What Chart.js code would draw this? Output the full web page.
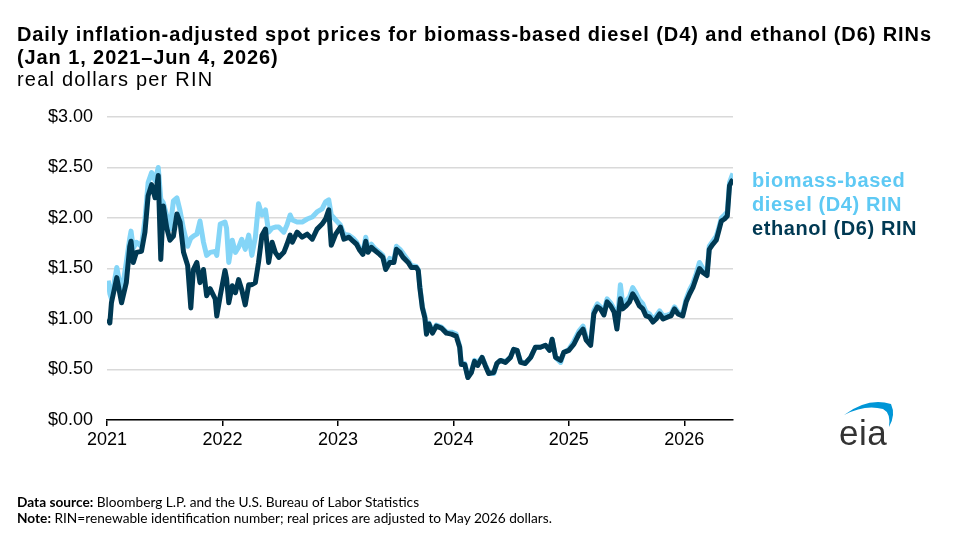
<!DOCTYPE html>
<html>
<head>
<meta charset="utf-8">
<script src="https://cdn.jsdelivr.net/npm/chart.js@4.4.1/dist/chart.umd.min.js"></script>
<style>
  html, body { margin: 0; padding: 0; background: #fff; }
  #wrap { position: relative; width: 976px; height: 542px; overflow: hidden; font-family: "Liberation Sans", Arial, sans-serif; }
  #ch { position: absolute; left: 0; top: 0; }
  .title { position: absolute; left: 17px; top: 23px; font-size: 20px; letter-spacing: 0.9px; font-weight: bold; line-height: 23px; color: #000; white-space: nowrap; }
  .sub { position: absolute; left: 17px; top: 68px; font-size: 20px; letter-spacing: 1.2px; line-height: 23px; color: #000; }
  .leg { position: absolute; left: 752px; top: 168px; font-size: 20px; letter-spacing: 0.6px; font-weight: bold; line-height: 24px; }
  .foot { position: absolute; left: 17px; top: 494px; font-family: Lato, sans-serif; font-size: 13.7px; line-height: 16px; color: #000; }
  #logo { position: absolute; left: 832px; top: 396px; }
</style>
</head>
<body>
<div id="wrap">
  <canvas id="ch" width="976" height="542"></canvas>
  <div class="title">Daily inflation-adjusted spot prices for biomass-based diesel (D4) and ethanol (D6) RINs<br>(Jan 1, 2021–Jun 4, 2026)</div>
  <div class="sub">real dollars per RIN</div>
  <div class="leg">
    <div style="color:#5ec9f4">biomass-based<br>diesel (D4) RIN</div>
    <div style="color:#003953">ethanol (D6) RIN</div>
  </div>
  <div class="foot"><b>Data source:</b> Bloomberg L.P. and the U.S. Bureau of Labor Statistics<br><b>Note:</b> RIN=renewable identification number; real prices are adjusted to May 2026 dollars.</div>
  <svg id="logo" width="70" height="55" viewBox="0 0 70 55">
    <path d="M12 19 Q36 1 59 8 Q64 19 57 31 Q59 17 51 13 Q33 8 12 19 Z" fill="#0096d7"/>
    <text x="7" y="49" font-family="Liberation Sans, Arial, sans-serif" font-size="35" fill="#333" letter-spacing="0.5">eia</text>
  </svg>
</div>
<script>
// dates of the readings (daily series)
let dates = [
  "2021-01-05","2021-01-10","2021-01-15","2021-02-01","2021-02-16","2021-03-03","2021-03-14","2021-03-18","2021-03-25","2021-04-04",
  "2021-04-20","2021-05-01","2021-05-11","2021-05-22","2021-06-02","2021-06-12","2021-06-20","2021-06-28","2021-07-09","2021-07-19",
  "2021-07-30","2021-08-10","2021-08-20","2021-08-31","2021-09-13","2021-09-23","2021-10-01","2021-10-12","2021-10-22","2021-11-02",
  "2021-11-12","2021-11-23","2021-12-09","2021-12-14","2021-12-25",
  "2022-01-09","2022-01-14","2022-01-21","2022-02-01","2022-02-11","2022-02-21","2022-03-03","2022-03-14","2022-03-25","2022-04-04",
  "2022-04-15","2022-04-25","2022-05-06","2022-05-17","2022-05-27","2022-06-07","2022-06-17","2022-06-28","2022-07-14","2022-07-24",
  "2022-08-03","2022-08-10","2022-08-25","2022-09-10","2022-09-26","2022-10-12","2022-10-27","2022-11-12","2022-11-23","2022-12-03",
  "2022-12-11","2022-12-25",
  "2023-01-09","2023-01-20","2023-02-05","2023-02-18","2023-03-01","2023-03-11","2023-03-21","2023-03-30","2023-04-06","2023-04-17",
  "2023-04-27","2023-05-13","2023-05-23","2023-06-01","2023-06-14","2023-06-27","2023-07-05","2023-07-16","2023-07-26","2023-08-11",
  "2023-08-21","2023-09-06","2023-09-12","2023-09-17","2023-09-25","2023-10-03","2023-10-08","2023-10-16","2023-10-27","2023-11-08",
  "2023-11-24","2023-12-10","2023-12-26",
  "2024-01-10","2024-01-21","2024-01-26","2024-02-06","2024-02-16","2024-02-27","2024-03-08","2024-03-18","2024-04-01","2024-04-11",
  "2024-04-22","2024-05-08","2024-05-18","2024-05-29","2024-06-14","2024-06-30","2024-07-10","2024-07-21","2024-08-01","2024-08-16",
  "2024-09-02","2024-09-17","2024-10-03","2024-10-19","2024-11-01","2024-11-09","2024-11-20","2024-12-06","2024-12-16",
  "2025-01-01","2025-01-17","2025-02-02","2025-02-15","2025-02-25","2025-03-11","2025-03-21","2025-04-01","2025-04-11","2025-04-22",
  "2025-05-02","2025-05-13","2025-05-24","2025-06-02","2025-06-13","2025-06-20","2025-07-01","2025-07-12","2025-07-22","2025-08-01",
  "2025-08-12","2025-08-23","2025-09-02","2025-09-13","2025-09-24","2025-10-04","2025-10-15","2025-10-26","2025-11-10","2025-11-20",
  "2025-12-01","2025-12-12","2025-12-27",
  "2026-01-07","2026-01-18","2026-01-28","2026-02-08","2026-02-18","2026-03-01","2026-03-14","2026-03-21","2026-04-01","2026-04-12",
  "2026-04-19","2026-04-28","2026-05-08","2026-05-17","2026-05-24","2026-06-01","2026-06-04",
];

// biomass-based diesel (D4) RIN, real $ per RIN
let d4 = [
  1.38,1.25,1.20,1.51,1.25,1.56,1.80,1.87,1.70,1.76,
  1.72,1.99,2.35,2.45,2.37,2.50,2.19,2.15,2.02,1.89,
  2.17,2.20,2.07,1.89,1.72,1.80,1.82,1.84,1.97,1.76,
  1.63,1.66,1.67,1.63,1.94,
  1.96,1.90,1.56,1.78,1.66,1.71,1.79,1.69,1.83,1.63,
  1.81,2.14,2.03,2.08,1.86,1.90,1.91,1.91,1.86,1.93,
  2.03,1.98,1.96,1.96,1.99,2.01,2.06,2.09,2.16,2.18,
  2.03,1.98,
  1.93,1.84,1.83,1.80,1.76,1.70,1.66,1.81,1.69,1.74,
  1.70,1.66,1.63,1.52,1.60,1.58,1.72,1.69,1.65,1.58,
  1.53,1.52,1.49,1.32,1.12,1.03,0.86,0.96,0.88,0.94,
  0.92,0.87,0.87,
  0.85,0.73,0.56,0.56,0.43,0.48,0.59,0.57,0.62,0.55,
  0.47,0.46,0.56,0.59,0.58,0.62,0.70,0.69,0.58,0.56,
  0.62,0.72,0.72,0.74,0.69,0.80,0.62,0.57,0.67,
  0.70,0.78,0.88,0.93,0.82,0.76,1.08,1.15,1.12,1.08,
  1.20,1.16,1.10,0.93,1.34,1.15,1.18,1.22,1.31,1.26,
  1.19,1.15,1.07,1.05,1.00,1.03,1.08,1.03,1.04,1.05,
  1.12,1.07,1.05,
  1.20,1.29,1.35,1.45,1.56,1.50,1.46,1.72,1.77,1.82,
  1.89,2.00,2.03,2.06,2.35,2.42,2.44,
];

// ethanol (D6) RIN, real $ per RIN
let d6 = [
  1.00,0.96,1.16,1.41,1.16,1.36,1.72,1.77,1.56,1.66,
  1.67,1.86,2.22,2.33,2.20,2.42,1.59,2.12,1.90,1.78,
  1.82,2.04,1.96,1.66,1.53,1.11,1.49,1.56,1.36,1.49,
  1.23,1.30,1.20,1.03,1.23,
  1.48,1.40,1.16,1.33,1.26,1.39,1.29,1.14,1.34,1.34,
  1.36,1.56,1.83,1.89,1.56,1.76,1.66,1.61,1.66,1.74,
  1.83,1.76,1.86,1.81,1.84,1.79,1.89,1.94,1.99,2.08,
  1.73,1.84,
  1.91,1.79,1.81,1.77,1.74,1.68,1.64,1.77,1.66,1.71,
  1.68,1.64,1.61,1.49,1.56,1.56,1.69,1.66,1.61,1.56,
  1.51,1.51,1.48,1.31,1.11,1.01,0.85,0.95,0.86,0.93,
  0.91,0.86,0.85,
  0.83,0.72,0.55,0.55,0.42,0.47,0.58,0.54,0.62,0.54,
  0.46,0.47,0.56,0.59,0.57,0.62,0.70,0.69,0.57,0.56,
  0.62,0.72,0.72,0.74,0.69,0.80,0.62,0.59,0.67,
  0.69,0.75,0.85,0.90,0.79,0.74,1.05,1.12,1.10,1.04,
  1.17,1.13,1.07,0.90,1.20,1.10,1.13,1.17,1.25,1.20,
  1.13,1.10,1.03,1.02,0.97,1.00,1.05,1.00,1.02,1.03,
  1.10,1.05,1.03,
  1.17,1.25,1.31,1.41,1.50,1.46,1.43,1.69,1.74,1.78,
  1.86,1.97,1.99,2.02,2.32,2.37,2.38,
];

let yearTicks = [2021, 2022, 2023, 2024, 2025, 2026];
let priceTicks = [0, 0.5, 1, 1.5, 2, 2.5, 3];

// date string -> fractional year for the linear x axis
function toYear(s) {
  const [y, m, d] = s.split("-").map(Number);
  const a = Date.UTC(y, 0, 1), b = Date.UTC(y + 1, 0, 1);
  return y + (Date.UTC(y, m - 1, d) - a) / (b - a);
}

const xs = dates.map(toYear);
const pts = (vals) => vals.map((v, i) => ({ x: xs[i], y: v }));

const font = { family: "'Liberation Sans', Arial, sans-serif", size: 18 };

const ctx = document.getElementById("ch");
const myChart = new Chart(ctx, {
  type: "line",
  data: {
    datasets: [
      {
        label: "ethanol (D6) RIN",
        data: pts(d6),
        borderColor: "#003953",
        borderWidth: 5,
        pointRadius: 0,
        tension: 0,
        borderJoinStyle: "round",
      },
      {
        label: "biomass-based diesel (D4) RIN",
        data: pts(d4),
        borderColor: "#84d5f7",
        borderWidth: 5,
        pointRadius: 0,
        tension: 0,
        borderJoinStyle: "round",
      },
    ],
  },
  options: {
    responsive: false,
    animation: false,
    layout: { padding: { left: 12, right: 243, top: 117, bottom: 82 } },
    plugins: {
      legend: { display: false },
      tooltip: { enabled: false },
    },
    scales: {
      x: {
        type: "linear",
        min: 2021,
        max: toYear("2026-06-04"),
        afterBuildTicks: (s) => { s.ticks = yearTicks.map((v) => ({ value: v })); },
        afterFit: (s) => { s.height = 40; },
        ticks: {
          color: "#000",
          font: font,
          padding: 3,
          maxRotation: 0,
          callback: (v) => String(v),
        },
        grid: { drawOnChartArea: false, drawTicks: true, tickLength: 6, color: "#000", lineWidth: 1.5 },
        border: { color: "#000", width: 1.5 },
      },
      y: {
        min: 0,
        max: 3,
        afterBuildTicks: (s) => { s.ticks = priceTicks.map((v) => ({ value: v })); },
        afterFit: (s) => { s.width = 95; },
        ticks: {
          color: "#000",
          font: font,
          padding: 14,
          callback: (v) => "$" + v.toFixed(2),
        },
        grid: { color: "#d9d9d9", lineWidth: 1.5, drawTicks: false },
        border: { display: false },
      },
    },
  },
});
</script>
</body>
</html>
